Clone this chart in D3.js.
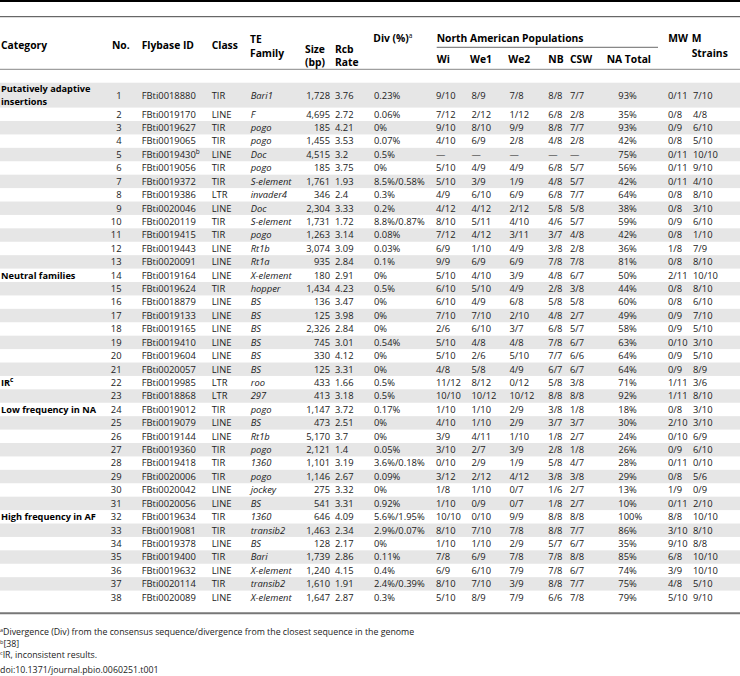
<!DOCTYPE html>
<html>
<head>
<meta charset="utf-8">
<script src="https://cdn.jsdelivr.net/npm/d3@7"></script>
<style>
body { margin: 0; background: #fff; }
text { font-family: "Open Sans", sans-serif; }
</style>
</head>
<body>
<script>
// table values, one array per column
var categories = ["Putatively adaptive\ninsertions", "Neutral families", "IR", "Low frequency in NA", "High frequency in AF"];
var categoryStart = [1, 14, 22, 24, 32];
var categorySup = ["", "", "c", "", ""];

var nos = d3.range(1, 39);
var ids = ["FBti0018880","FBti0019170","FBti0019627","FBti0019065","FBti0019430","FBti0019056","FBti0019372","FBti0019386","FBti0020046","FBti0020119",
  "FBti0019415","FBti0019443","FBti0020091","FBti0019164","FBti0019624","FBti0018879","FBti0019133","FBti0019165","FBti0019410","FBti0019604",
  "FBti0020057","FBti0019985","FBti0018868","FBti0019012","FBti0019079","FBti0019144","FBti0019360","FBti0019418","FBti0020006","FBti0020042",
  "FBti0020056","FBti0019634","FBti0019081","FBti0019378","FBti0019400","FBti0019632","FBti0020114","FBti0020089"];
var idSup = {5: "b"};
var classes = ["TIR","LINE","TIR","TIR","LINE","TIR","TIR","LTR","LINE","TIR",
  "TIR","LINE","LINE","LINE","TIR","LINE","LINE","LINE","LINE","LINE",
  "LINE","LTR","LTR","TIR","LINE","LINE","TIR","TIR","TIR","LINE",
  "LINE","TIR","TIR","LINE","TIR","LINE","TIR","LINE"];
var families = ["Bari1","F","pogo","pogo","Doc","pogo","S-element","invader4","Doc","S-element",
  "pogo","Rt1b","Rt1a","X-element","hopper","BS","BS","BS","BS","BS",
  "BS","roo","297","pogo","BS","Rt1b","pogo","1360","pogo","jockey",
  "BS","1360","transib2","BS","Bari","X-element","transib2","X-element"];
var sizes = ["1,728","4,695","185","1,455","4,515","185","1,761","346","2,304","1,731",
  "1,263","3,074","935","180","1,434","136","125","2,326","745","330",
  "125","433","413","1,147","473","5,170","2,121","1,101","1,146","275",
  "541","646","1,463","128","1,739","1,240","1,610","1,647"];
var rates = ["3.76","2.72","4.21","3.53","3.2","3.75","1.93","2.4","3.33","1.72",
  "3.14","3.09","2.84","2.91","4.23","3.47","3.98","2.84","3.01","4.12",
  "3.31","1.66","3.18","3.72","2.51","3.7","1.4","3.19","2.67","3.32",
  "3.31","4.09","2.34","2.17","2.86","4.15","1.91","2.87"];
var divs = ["0.23%","0.06%","0%","0.07%","0.5%","0%","8.5%/0.58%","0.3%","0.2%","8.8%/0.87%",
  "0.08%","0.03%","0.1%","0%","0.5%","0%","0%","0%","0.54%","0%",
  "0%","0.5%","0.5%","0.17%","0%","0%","0.05%","3.6%/0.18%","0.09%","0%",
  "0.92%","5.6%/1.95%","2.9%/0.07%","0%","0.11%","0.4%","2.4%/0.39%","0.3%"];
var wi = ["9/10","7/12","9/10","4/10","—","5/10","5/10","4/9","4/12","8/10",
  "7/12","6/9","9/9","5/10","6/10","6/10","7/10","2/6","5/10","5/10",
  "4/8","11/12","10/10","1/10","4/10","3/9","3/10","0/10","3/12","1/8",
  "1/10","10/10","8/10","1/10","7/8","6/9","8/10","5/10"];
var we1 = ["8/9","2/12","8/10","6/9","—","4/9","3/9","6/10","4/12","5/11",
  "4/12","1/10","6/9","4/10","5/10","4/9","7/10","6/10","4/8","2/6",
  "5/8","8/12","10/12","1/10","1/10","4/11","2/7","2/9","2/12","1/10",
  "0/9","0/10","7/10","1/10","6/9","6/10","7/10","8/9"];
var we2 = ["7/8","1/12","9/9","2/8","—","4/9","1/9","6/9","2/12","4/10",
  "3/11","4/9","6/9","3/9","4/9","6/8","2/10","3/7","4/8","5/10",
  "4/9","0/12","10/12","2/9","2/9","1/10","3/9","1/9","4/12","0/7",
  "0/7","9/9","7/8","2/9","7/8","7/9","3/9","7/9"];
var nb = ["8/8","6/8","8/8","4/8","—","6/8","4/8","6/8","5/8","4/6",
  "3/7","3/8","7/8","4/8","2/8","5/8","4/8","6/8","7/8","7/7",
  "6/7","5/8","8/8","3/8","3/7","1/8","2/8","5/8","3/8","1/6",
  "1/8","8/8","8/8","5/7","7/8","7/8","8/8","6/6"];
var csw = ["7/7","2/8","7/7","2/8","—","5/7","5/7","7/7","5/8","5/7",
  "4/8","2/8","7/8","6/7","3/8","5/8","2/7","5/7","6/7","6/6",
  "6/7","3/8","8/8","1/8","3/7","2/7","1/8","4/7","3/8","2/7",
  "2/7","8/8","7/7","6/7","8/8","6/7","7/7","7/8"];
var naTotal = ["93%","35%","93%","42%","75%","56%","42%","64%","38%","59%",
  "42%","36%","81%","50%","44%","60%","49%","58%","63%","64%",
  "64%","71%","92%","18%","30%","24%","26%","28%","29%","13%",
  "10%","100%","86%","35%","85%","74%","75%","79%"];
var mw = ["0/11","0/8","0/9","0/8","0/11","0/11","0/11","0/8","0/8","0/9",
  "0/8","1/8","0/8","2/11","0/8","0/8","0/9","0/9","0/10","0/9",
  "0/9","1/11","1/11","0/8","2/10","0/10","0/9","0/11","0/8","1/9",
  "0/11","8/8","3/10","9/10","6/8","3/9","4/8","5/10"];
var mStrains = ["7/10","4/8","6/10","5/10","10/10","9/10","4/10","8/10","3/10","6/10",
  "1/10","7/9","8/10","10/10","8/10","6/10","7/10","5/10","3/10","5/10",
  "8/9","3/6","8/10","3/10","3/10","6/9","6/10","0/10","5/6","0/9",
  "2/10","10/10","8/10","8/8","10/10","10/10","5/10","9/10"];

var footnotes = [
  {sup: "a", text: "Divergence (Div) from the consensus sequence/divergence from the closest sequence in the genome"},
  {sup: "b", text: "[38]"},
  {sup: "c", text: "IR, inconsistent results."},
  {sup: "", text: "doi:10.1371/journal.pbio.0060251.t001"}
];

var width = 740;
var height = 676;

var svg = d3.select('body').append('svg')
  .attr('width', width)
  .attr('height', height);

// row centres: row 1 is two lines tall, the rest are single lines
var rowY = d3.scaleLinear().domain([2, 38]).range([114.3, 597.3]);
var rowH = rowY(3) - rowY(2);
function yOf(n) { return n === 1 ? 95.5 : rowY(n); }

// zebra shading on odd rows
svg.selectAll('rect.shade').data(nos.filter(function(n) { return n % 2 === 1; }))
  .enter().append('rect')
  .attr('class', 'shade')
  .attr('x', 0)
  .attr('width', width)
  .attr('y', function(n) { return n === 1 ? 82.7 : yOf(n) - rowH / 2; })
  .attr('height', function(n) { return n === 1 ? rowY(2) - rowH / 2 - 82.7 : rowH; })
  .attr('fill', '#e6e6e6');

// rules
function rule(y, x1, x2, w, c) {
  svg.append('line').attr('x1', x1).attr('x2', x2).attr('y1', y).attr('y2', y)
    .attr('stroke', c).attr('stroke-width', w);
}
rule(1, 0, width, 2, '#000');
rule(16.7, 0, width, 1, '#444');
rule(47.3, 436.7, 658, 0.8, '#444');
rule(69.3, 0, width, 1, '#888');
rule(613.3, 0, width, 2, '#777');

// headers
var head = svg.append('g').attr('font-weight', 'bold').attr('font-size', '10.3px').attr('fill', '#000');
var headers = [
  ["Category", 1, 45], ["No.", 112, 45], ["Flybase ID", 141.7, 45], ["Class", 211.7, 45],
  ["TE", 250, 39.5], ["Family", 250, 53.3], ["Size", 305, 49.5], ["(bp)", 305, 62],
  ["Rcb", 335, 49.5], ["Rate", 335, 62], ["North American Populations", 436.7, 38.3],
  ["Wi", 436.7, 59.3], ["We1", 470, 59.3], ["We2", 508.3, 59.3], ["NB", 548.3, 59.3],
  ["CSW", 570, 59.3], ["NA Total", 606.7, 59.3], ["MW", 668.3, 38.3], ["M", 691.7, 38.3], ["Strains", 691.7, 53.3]
];
head.selectAll('text').data(headers).enter().append('text')
  .attr('x', function(d) { return d[1]; })
  .attr('y', function(d) { return d[2]; })
  .attr('dy', '0.35em')
  .text(function(d) { return d[0]; });
var divHead = head.append('text').attr('x', 373.3).attr('y', 38.3).attr('dy', '0.35em').text('Div (%)');
divHead.append('tspan').attr('font-size', '6.5px').attr('font-weight', 'normal').attr('dy', '-3.5').text('a');

// category labels
var cat = svg.append('g').attr('font-weight', 'bold').attr('font-size', '9.2px').attr('fill', '#000');
categories.forEach(function(c, i) {
  var lines = c.split('\n');
  var t = cat.append('text').attr('x', 1).attr('y', yOf(categoryStart[i]) - (lines.length - 1) * 6.6);
  lines.forEach(function(l, j) {
    t.append('tspan').attr('x', 1).attr('dy', j === 0 ? '0.35em' : '13.2').text(l);
  });
  if (categorySup[i]) {
    t.append('tspan').attr('font-size', '6.5px').attr('dy', '-3.5').text(categorySup[i]);
  }
});

// body columns
var columns = [
  {vals: nos.map(String), x: 121.5, anchor: 'end'},
  {vals: ids, x: 141.7, sup: idSup},
  {vals: classes, x: 211.7},
  {vals: families, x: 250.7, italic: true},
  {vals: sizes, x: 330, anchor: 'end'},
  {vals: rates, x: 335},
  {vals: divs, x: 374},
  {vals: wi, x: 436},
  {vals: we1, x: 471.5},
  {vals: we2, x: 509.5},
  {vals: nb, x: 548.3},
  {vals: csw, x: 570},
  {vals: naTotal, x: 618.3},
  {vals: mw, x: 668},
  {vals: mStrains, x: 693}
];

var body = svg.append('g').attr('font-size', '9.4px').attr('fill', '#222');
columns.forEach(function(col) {
  var t = body.append('g').selectAll('text').data(nos).enter().append('text')
    .attr('x', col.x)
    .attr('y', function(n) { return yOf(n); })
    .attr('dy', '0.35em')
    .attr('text-anchor', col.anchor || 'start')
    .attr('font-style', col.italic ? 'italic' : null)
    .text(function(n) { return col.vals[n - 1]; });
  if (col.sup) {
    t.filter(function(n) { return col.sup[n]; })
      .append('tspan').attr('font-size', '6.5px').attr('dy', '-3.5')
      .text(function(n) { return col.sup[n]; });
  }
});

// footnotes
var foot = svg.append('g').attr('font-size', '8.8px').attr('fill', '#222');
foot.selectAll('text').data(footnotes).enter().append('text')
  .attr('x', 0)
  .attr('y', function(d, i) { return 635 + i * 11.6; })
  .attr('dy', '0.35em')
  .each(function(d) {
    var el = d3.select(this);
    if (d.sup) el.append('tspan').attr('font-size', '5.5px').attr('dy', '-3').text(d.sup);
    el.append('tspan').attr('dy', d.sup ? '3' : null).text(d.text);
  });
</script>
</body>
</html>
